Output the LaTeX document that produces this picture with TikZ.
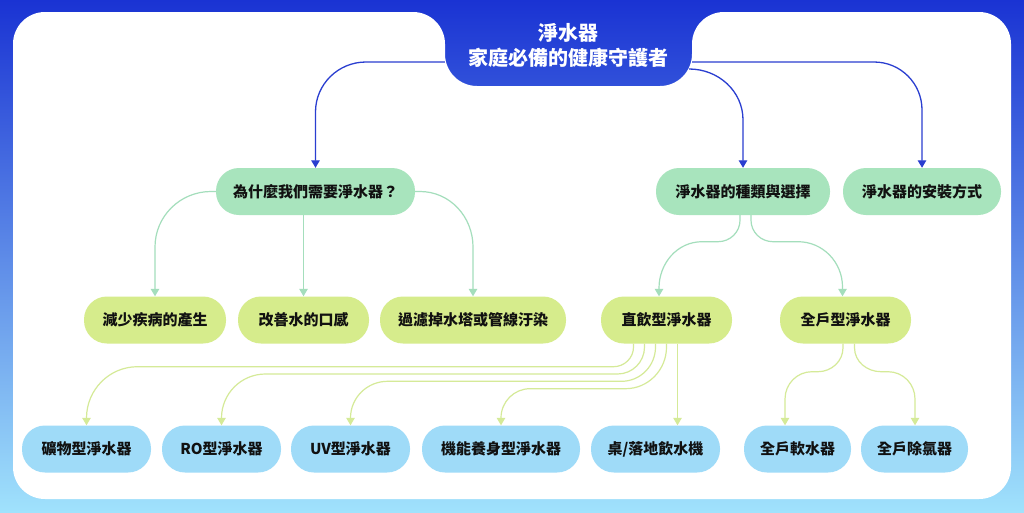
\documentclass[tikz,border=0pt]{standalone}
\usepackage{fontspec}
\setmainfont{Noto Sans CJK TC}
\usetikzlibrary{arrows.meta,calc}
\definecolor{bgtop}{HTML}{1A33D3}
\definecolor{bgbot}{HTML}{A0E2FC}
\definecolor{lvA}{HTML}{A8E4BD}
\definecolor{lvB}{HTML}{D6EC8C}
\definecolor{lvC}{HTML}{9FDBF8}
\definecolor{edgeblue}{HTML}{2A3ED0}
\definecolor{edgegreen}{HTML}{A4DEBC}
\definecolor{edgeyellow}{HTML}{D5EA98}
\definecolor{txt}{HTML}{111111}
\begin{document}
\begin{tikzpicture}[x=1pt,y=1pt,
 pill/.style={rectangle, rounded corners=23pt, minimum height=47pt, inner sep=0pt, font=\fontsize{15}{18}\selectfont\bfseries, text=txt},
 pa/.style={pill, fill=lvA},
 pb/.style={pill, fill=lvB},
 pc/.style={pill, fill=lvC},
 tip/.style={-{Triangle[length=7.5pt,width=8.5pt]}},
 eb/.style={tip, draw=edgeblue, fill=none, line width=1.3pt},
 eg/.style={tip, draw=edgegreen, fill=none, line width=1.2pt},
 ey/.style={tip, draw=edgeyellow, fill=none, line width=1.2pt},
 roottext/.style={rectangle, minimum width=247pt, minimum height=82pt, inner sep=0pt, align=center, text=white, font=\fontsize{20}{25}\selectfont\bfseries}
]
\useasboundingbox (0,0) rectangle (1024,-512);
\shade[top color=bgtop, bottom color=bgbot] (0,0) rectangle (1024,-512);
\fill[white, rounded corners=32pt] (13,-12) -- (445,-12) -- (445,-86) -- (692,-86) -- (692,-12) -- (1011,-12) -- (1011,-499) -- (13,-499) -- cycle;

\node[roottext] (root) at (568.5,-45) {淨水器\\家庭必備的健康守護者};

\node[pa, minimum width=199pt] (why) at (315.5,-191.5) {為什麼我們需要淨水器？};
\node[pa, minimum width=174pt] (types) at (743,-191.5) {淨水器的種類與選擇};
\node[pa, minimum width=158pt] (install) at (922,-191.5) {淨水器的安裝方式};
\node[pb, minimum width=142pt] (reduce) at (155,-320) {減少疾病的產生};
\node[pb, minimum width=131pt] (improve) at (303.5,-320) {改善水的口感};
\node[pb, minimum width=186pt] (filter) at (473,-320) {過濾掉水塔或管線汙染};
\node[pb, minimum width=131pt] (zhiyin) at (666.5,-320) {直飲型淨水器};
\node[pb, minimum width=131pt] (quanhu) at (845.5,-320) {全戶型淨水器};
\node[pc, minimum width=129pt] (kuang) at (86.5,-449) {礦物型淨水器};
\node[pc, minimum width=119pt] (ro) at (221.5,-449) {RO型淨水器};
\node[pc, minimum width=119pt] (uv) at (350.5,-449) {UV型淨水器};
\node[pc, minimum width=158pt] (jineng) at (501,-449) {機能養身型淨水器};
\node[pc, minimum width=129pt] (zhuo) at (655.5,-449) {桌/落地飲水機};
\node[pc, minimum width=107pt] (soft) at (797.5,-449) {全戶軟水器};
\node[pc, minimum width=107pt] (chlor) at (914.5,-449) {全戶除氯器};

% root connectors
\draw[eb] ([yshift=-17pt]root.west) -- (366,-62) to[out=180,in=90] (315.5,-112) -- (why.north);
\draw[eb] ([xshift=-3pt,yshift=-24pt]root.east) to[out=0,in=90] (743,-120) -- (types.north);
\draw[eb] ([yshift=-17pt]root.east) -- (874,-62) to[out=0,in=90] (922,-110) -- (install.north);

% why connectors
\draw[eg] (why.west) -- (211,-191.5) to[out=180,in=90] (155,-247) -- (reduce.north);
\draw[eg] (why.south -| improve.north) -- (improve.north);
\draw[eg] (why.east) -- (420,-191.5) to[out=0,in=90] (473,-247) -- (filter.north);

% types connectors
\draw[eg] ([xshift=-3pt]types.south) -- ++(0,-5) to[out=-90,in=0] (718,-241.7) -- (702,-241.7) to[out=180,in=90] (659,-288) -- ([xshift=-7.5pt]zhiyin.north);
\draw[eg] ([xshift=8pt]types.south) -- ++(0,-5) to[out=-90,in=180] (773,-241.7) -- (798,-241.7) to[out=0,in=90] (842.5,-287) -- ([xshift=-3pt]quanhu.north);

% zhiyin connectors
\draw[ey] ([xshift=-33pt]zhiyin.south) -- (633.5,-347) to[out=-90,in=0] (613.5,-366.7) -- (137.5,-366.7) to[out=180,in=90] (86.5,-418) -- (kuang.north);
\draw[ey] ([xshift=-22pt]zhiyin.south) -- (644.5,-347) to[out=-90,in=0] (617.5,-374) -- (265.5,-374) to[out=180,in=90] (221.5,-418) -- (ro.north);
\draw[ey] ([xshift=-11pt]zhiyin.south) -- (655.5,-347) to[out=-90,in=0] (621.5,-381.3) -- (387.5,-381.3) to[out=180,in=90] (350.5,-418) -- (uv.north);
\draw[ey] (zhiyin.south) -- (666.5,-347) to[out=-90,in=0] (625.5,-388.7) -- (530,-388.7) to[out=180,in=90] (501,-418) -- (jineng.north);
\coordinate (z5) at (677.5,0);
\draw[ey] (zhiyin.south -| z5) -- (zhuo.north -| z5);

% quanhu connectors
\draw[ey] ([xshift=-2.5pt]quanhu.south) -- ++(0,-4) to[out=-90,in=0] (818,-371.7) -- (812,-371.7) to[out=180,in=90] (785,-399) -- ([xshift=-12.5pt]soft.north);
\draw[ey] ([xshift=9pt]quanhu.south) -- ++(0,-4) to[out=-90,in=180] (881,-371.7) -- (888,-371.7) to[out=0,in=90] (915,-399) -- ([xshift=0.5pt]chlor.north);
\end{tikzpicture}
\end{document}
